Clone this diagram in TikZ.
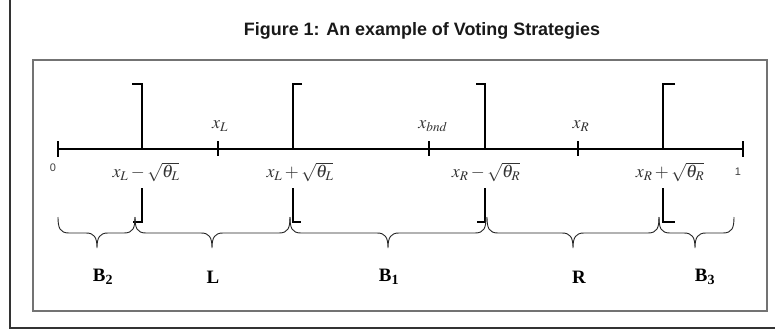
\documentclass[tikz,border=0pt]{standalone}
\usepackage{mathptmx}
\usepackage[no-math]{fontspec}
\setmainfont{Liberation Serif}
\newfontfamily\arialfont{Liberation Sans}
\newcommand\curlybrace[3]{% left x, right x, tip x
  \draw[bracepath] (#1,217) .. controls (#1,228) and (#1+2,233) .. (#1+11,233)
    -- (#3-11,233) .. controls (#3-3,233) and (#3,237) .. (#3,248)
    .. controls (#3,237) and (#3+3,233) .. (#3+11,233)
    -- (#2-11,233) .. controls (#2-2,233) and (#2,228) .. (#2,217);}
\begin{document}
\begin{tikzpicture}[x=1bp,y=-1bp,
  axisline/.style={line width=2bp, black},
  bracketline/.style={line width=2.6bp, black, line join=miter},
  tickline/.style={line width=1.8bp, black},
  bracepath/.style={line width=0.9bp, black!85},
  mathlabel/.style={inner sep=0pt, text=black!80, font=\fontsize{18}{20}\selectfont},
  endlabel/.style={inner sep=0pt, text=black!75, font=\arialfont\fontsize{11}{12}\selectfont},
  regionlabel/.style={inner sep=0pt, font=\fontsize{19}{21}\selectfont\bfseries},
  titlelabel/.style={inner sep=0pt, font=\arialfont\bfseries\fontsize{18}{20}\selectfont, text=black!90},
  innerframe/.style={draw=black!55, line width=1.4bp},
  outerframe/.style={draw=black!80, line width=1.5bp}]
\useasboundingbox[fill=white] (0,0) rectangle (775,332);
% frames
\draw[outerframe] (10,-2) -- (10,328) -- (777,328);
\draw[innerframe] (33,60) rectangle (767,311);
% title
\node[titlelabel] (title) at (422,31) {Figure 1: An example of Voting Strategies};
% axis
\coordinate (a0) at (58,149);
\coordinate (a1) at (743,149);
\draw[axisline] (a0) -- (a1);
\draw[tickline] (58,141) -- (58,157);
\draw[tickline] (743,141) -- (743,157);
\draw[tickline] (218,141) -- (218,156);
\draw[tickline] (429,141) -- (429,156);
\draw[tickline] (578,141) -- (578,156);
% brackets
\draw[bracketline] (132,84) -- (142,84) -- (142,149);
\draw[bracketline] (142,188) -- (142,222) -- (133,222);
\draw[bracketline] (302,84) -- (293,84) -- (293,149);
\draw[bracketline] (293,188) -- (293,222) -- (301,222);
\draw[bracketline] (476,84) -- (485,84) -- (485,149);
\draw[bracketline] (485,188) -- (485,222) -- (477,222);
\draw[bracketline] (675,84) -- (663,84) -- (663,149);
\draw[bracketline] (663,188) -- (663,222) -- (675,222);
% labels on the axis
\node[endlabel] (zero) at (53,168) {0};
\node[endlabel] (one) at (738,172) {1};
\node[mathlabel] (xL) at (220,126) {$x_L$};
\node[mathlabel] (xbnd) at (433,126) {$x_{bnd}$};
\node[mathlabel] (xR) at (581,126) {$x_R$};
\node[mathlabel] (lm) at (146,172) {$x_L-\sqrt{\theta_L}$};
\node[mathlabel] (lp) at (300,172) {$x_L+\sqrt{\theta_L}$};
\node[mathlabel] (rm) at (486,172) {$x_R-\sqrt{\theta_R}$};
\node[mathlabel] (rp) at (670,172) {$x_R+\sqrt{\theta_R}$};
% braces
\curlybrace{58}{135}{97}
\curlybrace{135}{290}{212}
\curlybrace{290}{486}{388}
\curlybrace{487}{659}{573}
\curlybrace{659}{734}{695}
% region labels
\node[regionlabel] (B2) at (103,277) {B\textsubscript{2}};
\node[regionlabel] (L) at (213,277) {L};
\node[regionlabel] (B1) at (389,277) {B\textsubscript{1}};
\node[regionlabel] (R) at (579,277) {R};
\node[regionlabel] (B3) at (705,277) {B\textsubscript{3}};
\end{tikzpicture}
\end{document}
